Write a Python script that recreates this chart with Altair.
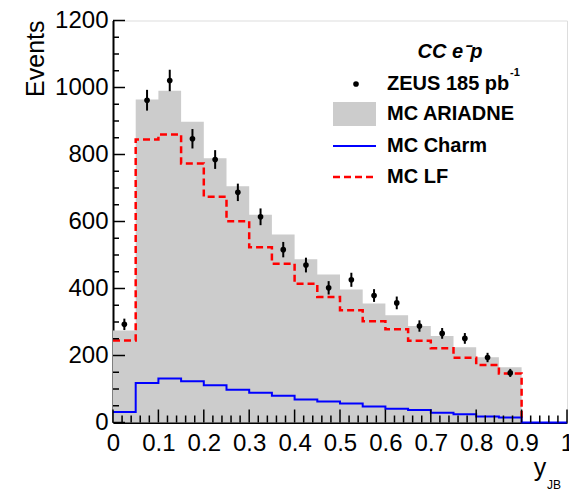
import altair as alt
import pandas as pd
import numpy as np

# ---- data ----
bin_lo = [0.00, 0.05, 0.10, 0.15, 0.20, 0.25, 0.30, 0.35, 0.40,
          0.45, 0.50, 0.55, 0.60, 0.65, 0.70, 0.75, 0.80, 0.85]
bin_hi = [0.05, 0.10, 0.15, 0.20, 0.25, 0.30, 0.35, 0.40, 0.45,
          0.50, 0.55, 0.60, 0.65, 0.70, 0.75, 0.80, 0.85, 0.90]
ariadne = [275, 964, 990, 898, 789, 705, 620, 561, 487, 442, 397, 355, 320, 288, 258, 225, 195, 165]
zeus = [293, 962, 1021, 847, 785, 687, 614, 516, 470, 402, 426, 379, 357, 288, 266, 251, 194, 148]
zeus_err = [17, 31, 32, 29, 28, 26, 25, 23, 22, 20, 21, 19, 19, 17, 16, 16, 14, 12]
mc_lf = [245, 845, 860, 773, 674, 601, 523, 474, 414, 375, 335, 302, 278, 244, 222, 193, 172, 146]
mc_charm = [31, 118, 131, 123, 111, 98, 89, 80, 69, 63, 57, 48, 41, 37, 29, 25, 18, 15]

x_labels = [0, 0.1, 0.2, 0.3, 0.4, 0.5, 0.6, 0.7, 0.8, 0.9, 1]
y_labels = [0, 200, 400, 600, 800, 1000, 1200]

W, H = 454, 402
FONT = "Liberation Sans"

xscale = alt.Scale(domain=[0, 1], nice=False, zero=False)
yscale = alt.Scale(domain=[0, 1200], nice=False)

area_df = pd.DataFrame({"x": bin_lo + [bin_hi[-1]], "v": ariadne + [ariadne[-1]]})
pts = pd.DataFrame({
    "xc": [(a + b) / 2 for a, b in zip(bin_lo, bin_hi)],
    "v": zeus,
    "lo": [v - e for v, e in zip(zeus, zeus_err)],
    "hi": [v + e for v, e in zip(zeus, zeus_err)],
})
lf_df = pd.DataFrame({"x": bin_lo + [bin_hi[-1]], "v": mc_lf + [0]})
ch_df = pd.DataFrame({"x": bin_lo + [bin_hi[-1], 1.0], "v": mc_charm + [0, 0]})

xaxis = alt.Axis(values=x_labels, format="~g", ticks=False, grid=False, title=None,
                 domainColor="black", domainWidth=2, labelFontSize=24, labelPadding=9,
                 labelFont=FONT, labelColor="black", labelFlush=False)
yaxis = alt.Axis(values=y_labels, format="d", ticks=False, grid=False, title=None,
                 domainColor="black", domainWidth=2, labelFontSize=24, labelPadding=5,
                 labelFont=FONT, labelColor="black", labelFlush=False)

gray = alt.Chart(area_df).mark_area(interpolate="step-after", color="#cccccc", opacity=1).encode(
    x=alt.X("x:Q", scale=xscale, axis=xaxis),
    y=alt.Y("v:Q", scale=yscale, axis=yaxis), y2=alt.datum(0))

lf = alt.Chart(lf_df).mark_line(interpolate="step-after", color="#ff0000",
                                strokeWidth=2.5, strokeDash=[7, 4]).encode(
    x=alt.X("x:Q", scale=xscale), y=alt.Y("v:Q", scale=yscale))

charm = alt.Chart(ch_df).mark_line(interpolate="step-after", color="#0000ff",
                                   strokeWidth=2).encode(
    x=alt.X("x:Q", scale=xscale), y=alt.Y("v:Q", scale=yscale))

err = alt.Chart(pts).mark_rule(color="black", strokeWidth=2).encode(
    x=alt.X("xc:Q", scale=xscale), y=alt.Y("lo:Q", scale=yscale), y2="hi:Q")
dots = alt.Chart(pts).mark_circle(color="black", opacity=1, size=32).encode(
    x=alt.X("xc:Q", scale=xscale), y=alt.Y("v:Q", scale=yscale))

# ---- inside ticks (ROOT style) ----
xmaj = pd.DataFrame({"t": x_labels})
xmin = pd.DataFrame({"t": [round(v, 2) for v in np.arange(0, 1.0001, 0.02) if round(v * 50) % 5 != 0]})
ymaj = pd.DataFrame({"t": y_labels})
ymin = pd.DataFrame({"t": [v for v in range(0, 1201, 50) if v % 200 != 0]})

tick_x_maj = alt.Chart(xmaj).mark_rule(color="black", strokeWidth=1.5).encode(
    x=alt.X("t:Q", scale=xscale), y=alt.value(H), y2=alt.value(H - 13))
tick_x_min = alt.Chart(xmin).mark_rule(color="black", strokeWidth=1.5).encode(
    x=alt.X("t:Q", scale=xscale), y=alt.value(H), y2=alt.value(H - 7))
tick_y_maj = alt.Chart(ymaj).mark_rule(color="black", strokeWidth=1.5).encode(
    y=alt.Y("t:Q", scale=yscale), x=alt.value(0), x2=alt.value(12))
tick_y_min = alt.Chart(ymin).mark_rule(color="black", strokeWidth=1.5).encode(
    y=alt.Y("t:Q", scale=yscale), x=alt.value(0), x2=alt.value(6))

# ---- titles ----
one = pd.DataFrame({"a": [0]})
ytitle = alt.Chart(one).mark_text(text="Events", angle=270, align="right", baseline="middle",
                                  fontSize=25, font=FONT, color="black").encode(
    x=alt.value(-77), y=alt.value(0))
xtitle = alt.Chart(one).mark_text(text="y", align="center", baseline="alphabetic",
                                  fontSize=25, font=FONT, color="black").encode(
    x=alt.value(427), y=alt.value(455))
xsub = alt.Chart(one).mark_text(text="JB", align="left", baseline="alphabetic",
                                fontSize=12, font=FONT, color="black").encode(
    x=alt.value(434), y=alt.value(468))

# ---- legend ----
leg_title = alt.Chart(one).mark_text(text="CC e\u207bp", align="center", baseline="middle",
                                     fontSize=20, font=FONT, fontStyle="italic",
                                     fontWeight="bold", color="black").encode(
    x=alt.value(337), y=alt.value(31.5))
leg_dot = alt.Chart(one).mark_circle(color="black", opacity=1, size=32).encode(
    x=alt.value(243), y=alt.value(63.5))
leg_box = alt.Chart(one).mark_rect(color="#cccccc").encode(
    x=alt.value(220), x2=alt.value(263), y=alt.value(81.5), y2=alt.value(105.5))
leg_blue = alt.Chart(one).mark_rule(color="#0000ff", strokeWidth=2).encode(
    x=alt.value(220), x2=alt.value(263), y=alt.value(125.5))
leg_red = alt.Chart(one).mark_rule(color="#ff0000", strokeWidth=2.5, strokeDash=[7, 4]).encode(
    x=alt.value(220), x2=alt.value(263), y=alt.value(156.5))

leg_text_df = pd.DataFrame({
    "label": ["ZEUS 185 pb", "MC ARIADNE", "MC Charm", "MC LF"],
    "yy": [63.5, 93.5, 125.5, 156.5],
})
leg_texts = alt.Chart(leg_text_df).mark_text(align="left", baseline="middle", fontSize=20,
                                             font=FONT, fontWeight="bold", color="black").encode(
    x=alt.value(274), y=alt.Y("yy:Q", scale=None), text="label:N")
leg_sup = alt.Chart(one).mark_text(text="-1", align="left", baseline="middle", fontSize=11,
                                   font=FONT, fontWeight="bold", color="black").encode(
    x=alt.value(397), y=alt.value(52))

chart = alt.layer(
    gray, lf, charm, err, dots,
    tick_x_maj, tick_x_min, tick_y_maj, tick_y_min,
    ytitle, xtitle, xsub,
    leg_title, leg_dot, leg_box, leg_blue, leg_red, leg_texts, leg_sup,
).properties(
    width=W, height=H,
    autosize=alt.AutoSizeParams(type="none"),
    padding={"left": 113, "top": 20.5, "right": 2, "bottom": 69.5},
).configure_view(stroke="black", strokeWidth=1).configure(background="white")

chart.save("out.html", embed_options={"renderer": "svg", "actions": False})
